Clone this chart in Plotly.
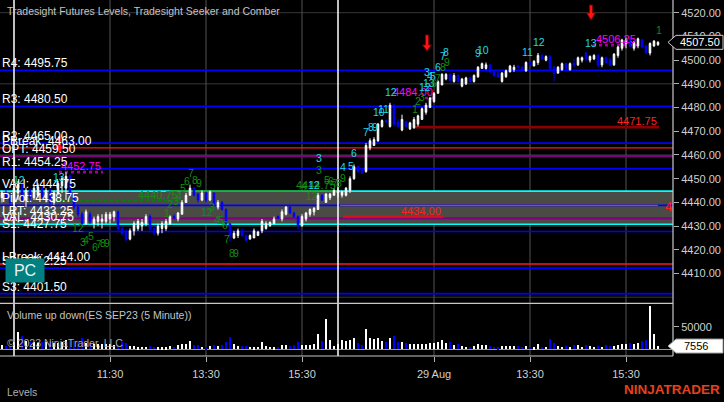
import plotly.graph_objects as go

# ---------------- data ----------------
bar_index = list(range(-3, 162))
opens = [4442, 4444, 4442, 4440, 4444, 4447.5, 4441, 4445, 4442, 4443, 4446, 4442, 4445, 4440, 4444, 4447, 4446,
         4451, 4443, 4438, 4435, 4431, 4435, 4431, 4432, 4432, 4432, 4433, 4434, 4436, 4429, 4428, 4424.5, 4428,
         4429, 4430, 4431, 4434, 4429, 4427, 4429, 4429, 4431, 4434, 4433, 4435, 4440, 4443, 4446, 4443.5, 4441,
         4444, 4441, 4444, 4438, 4440, 4437, 4431, 4425, 4426, 4428, 4426, 4424.5, 4425, 4426, 4428, 4429, 4430,
         4431, 4434, 4433, 4435, 4438, 4435.5, 4434, 4430, 4433, 4435, 4436, 4437, 4443, 4440, 4442, 4443,
         4444, 4443, 4443, 4445, 4450, 4455, 4453.5, 4453, 4463, 4464, 4466, 4472, 4474.5, 4472, 4481, 4474,
         4470.5, 4474, 4471, 4471.5, 4473, 4475, 4478, 4480, 4482.5, 4486, 4489.5, 4492, 4494, 4491, 4493.5,
         4489, 4490, 4492.5, 4491, 4493, 4496.5, 4496.5, 4498, 4495, 4494.5, 4491, 4493, 4495, 4496, 4497.5,
         4497, 4495.5, 4499, 4497.5, 4499, 4502, 4500, 4501.5, 4497, 4494.5, 4496, 4498.5, 4496, 4498.5, 4498,
         4500, 4503, 4500, 4500.5, 4502, 4498, 4501, 4500, 4498, 4502, 4505, 4507, 4508.5, 4505, 4506, 4508.5,
         4506, 4503, 4506, 4506.5]
highs = [4445, 4446, 4444, 4447, 4449, 4448, 4446, 4446, 4447, 4448, 4447, 4446, 4446, 4445, 4449, 4451, 4452.75,
         4452, 4444, 4439, 4436, 4437, 4436, 4434, 4435, 4435, 4436, 4436, 4436.5, 4436.5, 4430, 4428.5, 4429,
         4432, 4433, 4433, 4435, 4435, 4430, 4431, 4432, 4433, 4434.5, 4435, 4436, 4441, 4444, 4447.5, 4446.5,
         4444, 4445, 4444.5, 4445, 4444, 4441, 4440.5, 4437.5, 4431, 4428, 4429, 4429, 4426.5, 4426.5, 4429,
         4428, 4433, 4432, 4432, 4434, 4434.5, 4437, 4438.5, 4438.5, 4436, 4434.5, 4435, 4436, 4437.5, 4438,
         4444, 4443.5, 4444, 4444, 4446, 4446, 4445, 4446.5, 4451, 4456, 4455.5, 4454.5, 4465, 4467, 4467.5,
         4473.5, 4475, 4475, 4482, 4481.5, 4475, 4477, 4474.5, 4474, 4476, 4477, 4480, 4482, 4484.5, 4486.5,
         4491.5, 4494.5, 4494.5, 4494.5, 4494.5, 4494, 4492.5, 4493, 4493, 4494, 4497.5, 4499, 4499, 4498.5,
         4495.5, 4495, 4495, 4496, 4498, 4498, 4498, 4497.5, 4499.5, 4499.5, 4500, 4503, 4502.5, 4502, 4502,
         4497.5, 4497.5, 4499, 4499, 4499, 4500.5, 4501.5, 4501.5, 4503.5, 4502, 4502.5, 4502.5, 4501.5, 4501.5,
         4501, 4503, 4506, 4509, 4509.5, 4509, 4508, 4509.5, 4509, 4506.5, 4507.5, 4508.5, 4508]
lows = [4440, 4441, 4439, 4439, 4441, 4440, 4438, 4440, 4441, 4442, 4441, 4440, 4439, 4439, 4443, 4444, 4441,
        4442, 4437, 4434, 4430, 4430.5, 4431, 4429, 4430, 4429, 4431, 4431, 4432, 4428, 4426, 4423.5, 4424,
        4426, 4428, 4428, 4430, 4428, 4426, 4426, 4427, 4428, 4430.5, 4433, 4432, 4435, 4440, 4443, 4442.5,
        4440, 4440.5, 4440, 4440.5, 4439, 4437, 4436.5, 4430.5, 4423.5, 4424.5, 4425, 4425.5, 4423.5, 4424.5,
        4425, 4426, 4427, 4428.5, 4430, 4431, 4433, 4432, 4434.5, 4435, 4433.5, 4428.5, 4430, 4432, 4434,
        4434.5, 4437, 4440.5, 4440, 4441, 4443, 4442, 4442, 4442.5, 4444, 4449.5, 4452.5, 4452, 4452.5, 4462,
        4464, 4465.5, 4471.5, 4473.5, 4471.5, 4472, 4471.5, 4470, 4471.5, 4470.5, 4471, 4472, 4475, 4477,
        4480, 4482, 4486, 4489.5, 4491.5, 4490.5, 4490.5, 4490.5, 4488.5, 4489.5, 4490.5, 4490.5, 4492.5,
        4496.5, 4496, 4494.5, 4493, 4492.5, 4490.5, 4492.5, 4495, 4495, 4496.5, 4495, 4495, 4497.5, 4497.5,
        4498, 4500, 4499.5, 4496, 4491, 4494.5, 4495.5, 4496, 4495.5, 4497, 4497.5, 4499, 4499.5, 4499, 4500,
        4497, 4497, 4498.5, 4497.5, 4497.5, 4501, 4504, 4505, 4505.5, 4504, 4505, 4505, 4502.5, 4502, 4505.5,
        4506]
closes = [4444, 4442, 4440, 4446, 4447.5, 4441, 4445, 4442, 4446, 4446.5, 4442, 4445, 4440, 4444, 4448, 4450,
          4451, 4443, 4438, 4435, 4431, 4436, 4432, 4433, 4434, 4433, 4435, 4435, 4436, 4429, 4427, 4424.5,
          4428, 4431, 4432, 4431.5, 4434, 4429, 4427, 4430, 4431, 4432, 4434, 4433.5, 4435.5, 4440, 4443, 4446,
          4443, 4441, 4444, 4441, 4444.5, 4439.5, 4440, 4437, 4431, 4426, 4427, 4428, 4426, 4424, 4426, 4428,
          4427.5, 4432, 4431, 4431.5, 4433, 4433.5, 4436, 4438, 4435.5, 4434, 4430, 4434, 4435.5, 4437, 4437.5,
          4443, 4441, 4443.5, 4443.5, 4445, 4445, 4444.5, 4446, 4450, 4455, 4453, 4452.5, 4464, 4466, 4466.5,
          4473, 4474.5, 4474, 4481, 4473, 4472, 4475, 4472, 4473.5, 4475, 4476.5, 4479.5, 4481, 4484, 4486,
          4491, 4494, 4494, 4491.5, 4493.5, 4491, 4492, 4492.5, 4491, 4493.5, 4497, 4498.5, 4498, 4495, 4493.5,
          4493, 4494.5, 4495.5, 4497.5, 4497, 4497, 4495.5, 4499, 4498, 4499.5, 4502, 4500.5, 4501.5, 4496.5,
          4494.5, 4497, 4498.5, 4496.5, 4498.5, 4498, 4501, 4501, 4500.5, 4501.5, 4502, 4498, 4501, 4499, 4498,
          4502.5, 4505.5, 4508.5, 4508.5, 4506, 4507.5, 4509, 4505.5, 4503, 4507, 4508, 4507.5]
volumes = [9000, 8000, 6000, 16000, 37500, 29500, 17100, 15700, 14900, 13500, 16400, 14900, 17100, 13500, 12800,
           14900, 20800, 19300, 17900, 15700, 24400, 13500, 12000, 11300, 12000, 10600, 11300, 11300, 9800, 9800,
           14900, 12800, 7700, 6200, 4000, 5500, 5500, 7700, 5500, 4000, 4000, 4000, 7700, 4700, 8400, 11300,
           11300, 18600, 8400, 9800, 5500, 4000, 6200, 9800, 7700, 9800, 14900, 25900, 11300, 7700, 7700, 7700,
           5500, 4000, 5500, 14900, 6200, 5500, 4000, 5500, 9100, 9100, 7700, 9100, 14900, 9100, 9100, 9100,
           10600, 32400, 18600, 66700, 19300, 6200, 12000, 20800, 17100, 20800, 24400, 13500, 9800, 44100, 25200,
           21500, 24400, 17900, 16400, 25200, 29500, 16400, 15700, 12800, 10600, 10600, 10600, 10600, 10600,
           12800, 12800, 14900, 20800, 13500, 15700, 8400, 12000, 7700, 5500, 4700, 6200, 12000, 9800, 9100,
           7700, 4700, 4000, 6200, 6200, 7700, 6200, 7700, 5500, 6200, 5500, 4000, 12000, 4700, 4700, 21500,
           13500, 6200, 4700, 7700, 4000, 8400, 9800, 5500, 9800, 6200, 4700, 7700, 4700, 9800, 6200, 6200, 9100,
           10600, 10600, 12800, 10600, 12800, 18600, 20800, 93700, 32400, 7556]

tick_positions = [24, 48, 72, 105, 129, 153]
tick_labels = ["11:30", "13:30", "15:30", "29 Aug", "13:30", "15:30"]
session_starts = [0, 81]
price_ticks = [4410, 4420, 4430, 4440, 4450, 4460, 4470, 4480, 4490, 4500, 4510, 4520]
grid_prices = [4400, 4430, 4460, 4490, 4520]

level_names = ["R4", "R3", "R2", "PBreak", "OPT", "R1", "VAH", "Pivot", "LRT", "VAL", "S1", "LBreak", "S2", "S3"]
level_values = [4495.75, 4480.50, 4465.00, 4463.00, 4459.50, 4454.25, 4444.75, 4438.75, 4433.25, 4430.75,
                4427.75, 4414.00, 4412.25, 4401.50]

# seeker / comber price marks: value, first bar, last bar
mark_values = [4452.75, 4440.75, 4444.75, 4434.00, 4438.75, 4471.75, 4484.00, 4506.25]
mark_start = [11.25, 9, 39, 82.25, 81.5, 100.25, 102.75, 144.75]
mark_end = [22.25, 41.5, 81, 107.25, 161, 161.25, 105.25, 156]
mark_kind = ["magenta", "green_dot", "green", "red", "red_thin", "darkred", "magenta", "magenta"]

# count labels: text, colour group, bar, price
count_text = ["12", "13", "5", "6", "7", "8", "9", "12", "3", "4", "5", "6", "7", "8", "9", "1", "2", "3", "4",
              "12", "3", "4", "5", "6", "7", "8", "9", "3", "3", "4", "12", "12", "5", "6", "7", "8", "9", "4", "5",
              "6", "7", "8", "9", "10", "11", "12", "1", "2", "3", "12", "13", "3", "4", "5", "6", "7", "6", "8",
              "9", "7", "8", "9", "10", "11", "12", "13", "1"]
count_group = ["c", "c", "g", "g", "g", "g", "g", "g", "g", "g", "g", "g", "g", "g", "g", "g", "g", "g", "g",
               "g", "g", "g", "g", "g", "g", "g", "g", "c", "g", "g", "c", "g", "g", "g", "g", "g", "g", "c", "c",
               "c", "c", "c", "c", "c", "c", "c", "g", "g", "g", "c", "c", "c", "c", "c", "g", "g", "c", "g",
               "g", "c", "c", "c", "c", "c", "c", "c", "g"]
count_bar = [1.25, 11.25, 42.25, 43.25, 44.25, 45.25, 46.25, 16, 17.25, 18, 19.25, 20.25, 21.25, 22.25, 23.25,
             38.25, 39.0, 40.5, 41.25, 48.25, 49.5, 50.75, 51.75, 52.75, 53.25, 54.5, 55.5, 76.25, 76.25, 72.5,
             75, 74.5, 78.25, 79.25, 80.25, 81.25, 82.25, 82.25, 84.25, 85, 88, 89.25, 90.25, 91.25, 92.25,
             94.25, 100.25, 101, 102, 102.75, 103.75, 103.25, 104, 104.75, 105, 106, 106, 107.25, 108.25,
             107.25, 108, 116, 117.25, 128.25, 131.25, 144.25, 161.25]
count_price = [4449.4, 4450.7, 4446.1, 4449.0, 4452.4, 4449.4, 4448.2, 4429.2, 4423.3, 4424.1, 4425.8, 4421.2,
               4422.5, 4422.9, 4422.9, 4435.6, 4439.3, 4440.5, 4442.7, 4436.0, 4438.1, 4432.6, 4432.6, 4430.5,
               4424.6, 4418.7, 4418.7, 4458.7, 4453.7, 4446.9, 4447.3, 4442.7, 4449.4, 4449.0, 4448.2, 4448.2,
               4450.3, 4454.9, 4455.3, 4460.8, 4469.7, 4471.8, 4471.8, 4478.1, 4479.4, 4486.6, 4479.4, 4482.8,
               4484.5, 4488.7, 4490.4, 4495.0, 4493.3, 4493.3, 4490.4, 4492.5, 4497.1, 4497.1, 4499.2, 4501.7,
               4503.4, 4503.0, 4504.3, 4503.4, 4507.6, 4507.2, 4512.7]

# red sell arrows: bar, top, neck, tip (price)
arrow_bar = [103.25, 144.25, 11.4]
arrow_top = [4510.6, 4523.25, 4467.2]
arrow_neck = [4506.4, 4519.9, 4463.8]
arrow_tip = [4503.85, 4516.9, 4460.8]

last_price = 4507.50
last_volume = 7556

# ---------------- styles ----------------
FONT = "Liberation Sans, Arial, sans-serif"
BLUE = "#0000ff"
level_style = {"R4": (BLUE, 1.6), "R3": (BLUE, 1.6), "R2": (BLUE, 1.6), "PBreak": ("#ff1a1a", 1.4),
               "OPT": ("#800080", 2.2), "R1": (BLUE, 1.6), "VAH": ("#00ffff", 1.6), "Pivot": (BLUE, 1.6),
               "LRT": ("#800080", 2.2), "VAL": ("#00ffff", 1.6), "S1": (BLUE, 1.6), "LBreak": ("#ff1a1a", 1.6),
               "S2": (BLUE, 1.6), "S3": (BLUE, 1.6)}
mark_style = {"magenta": ("#a000a0", 2.6, "dot"), "green_dot": ("#127a12", 1.5, "dot"),
              "green": ("#1a9a1a", 1.5, "solid"), "red": ("#d01818", 2.2, "solid"),
              "red_thin": ("#ff3a3a", 1.0, "solid"), "darkred": ("#8b0000", 2.6, "solid")}
mark_label_color = {"magenta": "#ff00ff", "green_dot": "#168a16", "green": "#168a16", "red": "#ff2020",
                    "red_thin": "#ff2020", "darkred": "#ff2020"}
count_color = {"c": "#22d8e8", "g": "#128c12"}

fig = go.Figure()
fig.add_trace(go.Candlestick(
    x=bar_index, open=opens, high=highs, low=lows, close=closes,
    increasing=dict(line=dict(color="#ffffff", width=1), fillcolor="#ffffff"),
    decreasing=dict(line=dict(color=BLUE, width=1), fillcolor=BLUE),
    whiskerwidth=0, showlegend=False, hoverinfo="skip", xaxis="x", yaxis="y"))

vol_colors = ["#ffffff" if c >= o else BLUE for o, c in zip(opens, closes)]
fig.add_trace(go.Bar(x=bar_index, y=volumes, width=0.5, marker=dict(color=vol_colors, line=dict(width=0)),
                     showlegend=False, hoverinfo="skip", xaxis="x", yaxis="y2"))

shapes = []
for g in grid_prices:
    shapes.append(dict(type="line", xref="paper", x0=0, x1=1, yref="y", y0=g, y1=g,
                       line=dict(color="#383838", width=1), layer="below"))
for t in tick_positions:
    shapes.append(dict(type="line", xref="x", x0=t, x1=t, yref="paper", y0=0, y1=1,
                       line=dict(color="#525252", width=1), layer="below"))
vah = level_values[level_names.index("VAH")]
val = level_values[level_names.index("VAL")]
shapes.append(dict(type="rect", xref="paper", x0=0, x1=1, yref="y", y0=val, y1=vah,
                   fillcolor="#4b4b45", line=dict(width=0), layer="below"))
for n, v in zip(level_names, level_values):
    col, w = level_style[n]
    shapes.append(dict(type="line", xref="paper", x0=0, x1=1, yref="y", y0=v, y1=v,
                       line=dict(color=col, width=w), layer="below"))
for v, a, b, k in zip(mark_values, mark_start, mark_end, mark_kind):
    col, w, d = mark_style[k]
    shapes.append(dict(type="line", xref="x", x0=a, x1=b, yref="y", y0=v, y1=v,
                       line=dict(color=col, width=w, dash=d), layer="below"))
for s in session_starts:
    shapes.append(dict(type="line", xref="x", x0=s, x1=s, yref="paper", y0=0, y1=1,
                       line=dict(color="#ffffff", width=1.5), layer="above"))
shapes.append(dict(type="line", xref="paper", x0=0, x1=1, yref="y2", y0=0, y1=0,
                   line=dict(color="#9a9a9a", width=1), layer="below"))
shapes.append(dict(type="line", xref="paper", x0=0, x1=1, yref="paper", y0=0.148, y1=0.148,
                   line=dict(color="#c8c8c8", width=1.2)))
shapes.append(dict(type="line", xref="paper", x0=0, x1=1.0, yref="paper", y0=0, y1=0,
                   line=dict(color="#c8c8c8", width=1.2)))
shapes.append(dict(type="line", xref="paper", x0=1, x1=1, yref="paper", y0=0, y1=1,
                   line=dict(color="#c8c8c8", width=1.2)))
for ib, pt, pn, pp in zip(arrow_bar, arrow_top, arrow_neck, arrow_tip):
    hs, hh = (0.4, 1.1) if pt - pp > 5 else (0.3, 0.85)
    path = (f"M {ib-hs},{pt} L {ib+hs},{pt} L {ib+hs},{pn} L {ib+hh},{pn} L {ib},{pp} "
            f"L {ib-hh},{pn} L {ib-hs},{pn} Z")
    shapes.append(dict(type="path", xref="x", yref="y", path=path, fillcolor="#ff1414",
                       line=dict(color="#7a0000", width=1), layer="above"))

def box_path(p, dy):
    xt, xl, xr = 668 / 673, 676 / 673, 723 / 673
    return f"M {xt},{p} L {xl},{p+dy} L {xr},{p+dy} L {xr},{p-dy} L {xl},{p-dy} Z"
shapes.append(dict(type="path", xref="paper", yref="y", path=box_path(last_price, 2.95),
                   fillcolor="#000000", line=dict(color="#c8c8c8", width=1)))
shapes.append(dict(type="path", xref="paper", yref="y2", path=box_path(last_volume, 15300),
                   fillcolor="#ffffff", line=dict(color="#a0a0a0", width=1)))

ann = []
def A(**kw):
    base = dict(showarrow=False)
    base.update(kw)
    ann.append(base)

for n, v in zip(level_names, level_values):
    A(text=f"{n}: {v:.2f}", xref="paper", x=0.0, xanchor="left", yref="y", y=v, yanchor="middle",
      yshift=7, font=dict(family=FONT, size=12, color="#ffffff"))
for v, b, k in zip(mark_values, mark_end, mark_kind):
    if k == "red_thin":
        A(text=f"{v:.2f}"[0], xref="x", x=163.6, xanchor="center", yref="y", y=v, yanchor="middle",
          yshift=-1, font=dict(family=FONT, size=13, color=mark_label_color[k]))
        continue
    A(text=f"{v:.2f}", xref="x", x=b, xanchor="right", yref="y", y=v, yanchor="middle", yshift=6,
      font=dict(family=FONT, size=11, color=mark_label_color[k]))
for t, g, b, p in zip(count_text, count_group, count_bar, count_price):
    A(text=t, xref="x", x=b, xanchor="center", yref="y", y=p, yanchor="middle",
      font=dict(family=FONT, size=10.5, color=count_color[g]))
A(text="Tradesight Futures Levels, Tradesight Seeker and Comber", xref="paper", x=5 / 673, xanchor="left",
  yref="paper", y=(356 - 11) / 356, yanchor="middle", font=dict(family=FONT, size=10.5, color="#c4c4c4"))
A(text="Volume up down(ES SEP23 (5 Minute))", xref="paper", x=5 / 673, xanchor="left",
  yref="paper", y=(356 - 315) / 356, yanchor="middle", font=dict(family=FONT, size=10.5, color="#c4c4c4"))
A(text="© 2023 NinjaTrader, LLC", xref="paper", x=5 / 673, xanchor="left",
  yref="paper", y=(356 - 342.5) / 356, yanchor="middle", font=dict(family=FONT, size=10.5, color="#a8a8a8"))
A(text="Levels", xref="paper", x=5 / 673, xanchor="left",
  yref="paper", y=(356 - 392) / 356, yanchor="middle", font=dict(family=FONT, size=10.5, color="#b0b0b0"))
A(text="<b>NINJATRADER</b>", xref="paper", x=722 / 673, xanchor="right",
  yref="paper", y=(356 - 390) / 356, yanchor="middle", font=dict(family=FONT, size=13.5, color="#e8401c"))
A(text=f"{last_price:.2f}", xref="paper", x=700 / 673, xanchor="center", yref="y", y=last_price,
  yanchor="middle", font=dict(family=FONT, size=11, color="#ffffff"))
A(text=f"{last_volume}", xref="paper", x=696 / 673, xanchor="center", yref="y2", y=last_volume,
  yanchor="middle", font=dict(family=FONT, size=11, color="#000000"))
A(text="PC", xref="paper", x=25 / 673, xanchor="center", yref="paper", y=(356 - 270.5) / 356,
  yanchor="middle", width=38, height=23, bgcolor="#008080", borderpad=0,
  font=dict(family=FONT, size=16, color="#e8f4f4"))

fig.update_layout(
    width=724, height=402, margin=dict(l=0, r=51, t=0, b=46),
    paper_bgcolor="#000000", plot_bgcolor="#000000", showlegend=False, boxgap=0.45,
    bargap=0, shapes=shapes, annotations=ann, font=dict(family=FONT),
    xaxis=dict(range=[-3.5, 164.75], domain=[0, 1], anchor="y2", tickvals=tick_positions,
               ticktext=tick_labels, ticks="outside", ticklen=5, tickcolor="#b0b0b0", showgrid=False,
               zeroline=False, showline=False, rangeslider=dict(visible=False), ticklabelstandoff=3,
               tickfont=dict(family=FONT, size=11, color="#d0d0d0")),
    yaxis=dict(domain=[0.148, 1], range=[4397.43, 4525.36], side="right", anchor="x",
               tickvals=price_ticks, ticktext=[f"{v:.2f}" for v in price_ticks], ticks="outside",
               ticklen=5, tickcolor="#b0b0b0", showgrid=False, zeroline=False, showline=False,
               tickfont=dict(family=FONT, size=11, color="#d0d0d0")),
    yaxis2=dict(domain=[0, 0.148], range=[-14222, 101086], side="right", anchor="x",
                tickvals=[50000], ticktext=["50000"], ticks="outside", ticklen=5, tickcolor="#b0b0b0",
                showgrid=False, zeroline=False, showline=False,
                tickfont=dict(family=FONT, size=11, color="#d0d0d0")),
)

fig.write_html("out.html", config={"displayModeBar": False},
               post_script="document.body.style.margin='0';document.body.style.background='#000';")
